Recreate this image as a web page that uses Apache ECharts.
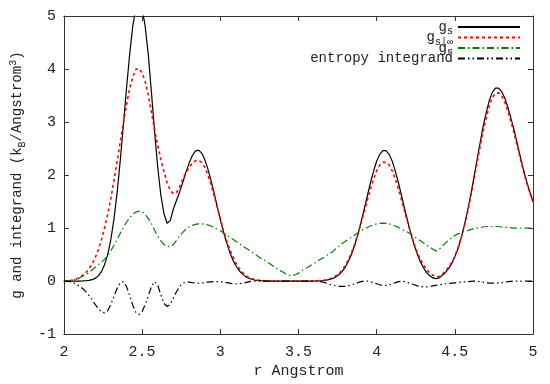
<!DOCTYPE html>
<html><head><meta charset="utf-8">
<script src="https://cdn.jsdelivr.net/npm/echarts@6/dist/echarts.min.js"></script>
<style>html,body{margin:0;padding:0;background:#fff}#c{width:550px;height:384px}</style>
</head><body><div id="c"></div>
<script>
// r grid (Angstrom), 2.00 .. 5.00 step 0.02
const r = Array.from({length: 151}, (_, i) => +(2 + i * 0.02).toFixed(2));

const gs = [
  0,0,0,0,0,0.001,0.003,0.006,0.013,0.026,
  0.052,0.098,0.178,0.31,0.50,0.78,1.17,1.66,2.26,2.93,
  3.62,4.26,4.80,5.15,5.27,5.15,4.80,4.26,3.55,2.82,
  2.15,1.62,1.27,1.09,1.14,1.36,1.52,1.68,1.86,2.05,
  2.22,2.36,2.45,2.47,2.42,2.30,2.12,1.91,1.67,1.41,
  1.17,0.93,0.73,0.55,0.40,0.29,0.20,0.136,0.089,0.057,
  0.035,0.021,0.012,0.007,0.004,0.002,0.001,0,0,0,
  0,0,0,0,0,0,0,0,0,0.001,
  0.002,0.003,0.006,0.011,0.019,0.031,0.050,0.080,0.123,0.183,
  0.265,0.373,0.51,0.68,0.88,1.11,1.35,1.60,1.85,2.07,
  2.26,2.39,2.46,2.46,2.39,2.26,2.07,1.85,1.60,1.35,
  1.11,0.88,0.68,0.51,0.36,0.25,0.16,0.10,0.06,0.045,
  0.06,0.11,0.163,0.235,0.33,0.456,0.61,0.81,1.04,1.30,
  1.60,1.92,2.25,2.58,2.90,3.17,3.40,3.56,3.64,3.64,
  3.57,3.45,3.27,3.06,2.84,2.59,2.33,2.09,1.87,1.68,
  1.50
];

const gsInf = [
  0,0.005,0.01,0.02,0.04,0.07,0.11,0.16,0.23,0.32,
  0.44,0.59,0.78,1.0,1.26,1.56,1.9,2.25,2.62,2.98,
  3.32,3.62,3.85,3.99,4.01,3.93,3.76,3.5,3.18,2.85,
  2.56,2.3,2.06,1.86,1.71,1.65,1.67,1.78,1.92,2.04,
  2.14,2.22,2.27,2.28,2.24,2.15,2.01,1.83,1.62,1.40,
  1.18,0.96,0.77,0.60,0.46,0.34,0.24,0.17,0.11,0.07,
  0.05,0.03,0.02,0.01,0.005,0.002,0,0,0,0,
  0,0,0,0,0,0,0,0,0,0,
  0,0.005,0.01,0.016,0.027,0.043,0.067,0.10,0.15,0.21,
  0.30,0.41,0.54,0.70,0.89,1.09,1.30,1.52,1.73,1.92,
  2.08,2.19,2.24,2.24,2.19,2.08,1.92,1.73,1.52,1.30,
  1.09,0.89,0.70,0.54,0.41,0.30,0.21,0.15,0.11,0.085,
  0.09,0.13,0.19,0.26,0.35,0.47,0.62,0.81,1.03,1.28,
  1.57,1.88,2.2,2.51,2.81,3.07,3.3,3.46,3.54,3.55,
  3.49,3.37,3.2,3.0,2.78,2.54,2.29,2.06,1.85,1.66,
  1.49
];

const gr = [
  0,0.005,0.01,0.02,0.04,0.06,0.09,0.12,0.16,0.21,
  0.26,0.31,0.36,0.41,0.48,0.57,0.67,0.79,0.90,1.01,
  1.11,1.19,1.26,1.30,1.32,1.31,1.26,1.18,1.08,0.96,
  0.85,0.76,0.69,0.655,0.65,0.69,0.77,0.85,0.92,0.98,
  1.02,1.05,1.07,1.08,1.08,1.07,1.06,1.04,1.01,0.98,
  0.95,0.91,0.87,0.83,0.79,0.75,0.71,0.67,0.63,0.59,
  0.55,0.51,0.47,0.43,0.40,0.36,0.32,0.28,0.24,0.20,
  0.17,0.135,0.11,0.10,0.12,0.15,0.19,0.23,0.26,0.30,
  0.33,0.37,0.41,0.44,0.48,0.52,0.56,0.61,0.66,0.71,
  0.75,0.79,0.83,0.87,0.91,0.95,0.98,1.01,1.04,1.06,
  1.08,1.09,1.095,1.09,1.08,1.06,1.04,1.01,0.98,0.95,
  0.92,0.88,0.84,0.80,0.76,0.72,0.68,0.64,0.60,0.57,
  0.60,0.66,0.72,0.77,0.82,0.86,0.89,0.91,0.93,0.95,
  0.97,0.99,1.00,1.01,1.02,1.03,1.03,1.03,1.03,1.025,
  1.02,1.015,1.01,1.005,1.0,1.0,1.0,1.0,1.0,1.0,
  1.0
];

const entropy = [
  0,-0.005,-0.01,-0.03,-0.06,-0.10,-0.14,-0.20,-0.27,-0.35,
  -0.44,-0.52,-0.58,-0.60,-0.56,-0.44,-0.29,-0.14,-0.03,-0.01,
  -0.10,-0.27,-0.45,-0.59,-0.63,-0.58,-0.44,-0.28,-0.10,-0.01,
  -0.08,-0.26,-0.42,-0.48,-0.44,-0.32,-0.20,-0.10,-0.04,-0.02,
  -0.02,-0.03,-0.035,-0.04,-0.04,-0.03,-0.02,-0.015,-0.01,-0.01,
  -0.015,-0.02,-0.03,-0.04,-0.05,-0.05,-0.05,-0.04,-0.03,-0.015,
  -0.005,0,0,0,0,0,0,0,0,0,
  0,0,0,0,0,0,0,0,0,0,
  0,0,-0.01,-0.02,-0.04,-0.06,-0.08,-0.09,-0.10,-0.10,
  -0.10,-0.09,-0.07,-0.05,-0.03,-0.01,0,0,-0.01,-0.03,
  -0.05,-0.07,-0.08,-0.08,-0.07,-0.05,-0.03,-0.01,0,-0.01,
  -0.03,-0.05,-0.07,-0.09,-0.10,-0.11,-0.11,-0.10,-0.09,-0.08,
  -0.07,-0.06,-0.05,-0.05,-0.04,-0.035,-0.03,-0.02,-0.015,-0.01,
  -0.005,0,0,-0.01,-0.02,-0.03,-0.04,-0.04,-0.04,-0.035,
  -0.03,-0.02,-0.01,-0.005,0,0,0,0,0,0,
  0
];

const xTicks = {min: 2, max: 5, interval: 0.5};
const yTicks = {min: -1, max: 5, interval: 1};
const legendLabels = {
  gs: '{m|g}{s|s}',
  gsInf: '{m|g}{s|s|∞}',
  gr: '{m|g}{s|r}',
  ent: '{m|entropy integrand}'
};

const FONT = 'Liberation Mono';
const TXT = '#222';
const AX = '#333';
const pair = a => r.map((x, i) => [x, a[i]]);

const chart = echarts.init(document.getElementById('c'), null, {renderer: 'canvas'});

const baseAxis = {
  type: 'value',
  axisLine: {show: true, onZero: false, lineStyle: {color: AX, width: 1}},
  axisTick: {show: true, inside: true, length: 5, lineStyle: {color: AX}},
  splitLine: {show: false},
  axisLabel: {fontFamily: FONT, fontSize: 15, color: TXT}
};

chart.setOption({
  animation: false,
  backgroundColor: '#fff',
  grid: {left: 55.7, right: 17, top: 16, bottom: 38.5},
  legend: {
    orient: 'vertical', right: 24, top: 15, align: 'right',
    itemWidth: 62, itemHeight: 8, itemGap: -6,
    itemStyle: {opacity: 0, borderWidth: 0},
    formatter: n => legendLabels[n],
    textStyle: {
      fontFamily: FONT, fontSize: 14, color: TXT,
      rich: {
        m: {fontFamily: FONT, fontSize: 14, color: TXT},
        s: {fontFamily: FONT, fontSize: 10, color: TXT, verticalAlign: 'bottom', padding: [9, 0, 0, 0]}
      }
    }
  },
  xAxis: [
    Object.assign({}, baseAxis, xTicks, {
      position: 'bottom',
      axisLabel: {fontFamily: FONT, fontSize: 15, color: TXT, margin: 10},
      name: 'r Angstrom', nameLocation: 'middle', nameGap: 28,
      nameTextStyle: {fontFamily: FONT, fontSize: 15, color: TXT}
    }),
    Object.assign({}, baseAxis, xTicks, {position: 'top', axisLabel: {show: false}})
  ],
  yAxis: [
    Object.assign({}, baseAxis, yTicks, {
      position: 'left',
      axisLabel: {fontFamily: FONT, fontSize: 15, color: TXT, margin: 8},
      name: 'g and integrand (k{sub|B}/Angstrom{sup|3})', nameLocation: 'middle', nameGap: 29,
      nameTextStyle: {
        fontFamily: FONT, fontSize: 14, color: TXT,
        rich: {
          sub: {fontFamily: FONT, fontSize: 10, color: TXT, verticalAlign: 'bottom', padding: [9, 0, 0, 0]},
          sup: {fontFamily: FONT, fontSize: 10, color: TXT, verticalAlign: 'top', padding: [0, 0, 9, 0]}
        }
      }
    }),
    Object.assign({}, baseAxis, yTicks, {position: 'right', axisLabel: {show: false}})
  ],
  series: [
    {name: 'gs', type: 'line', data: pair(gs), showSymbol: false, symbol: 'none',
     lineStyle: {color: '#000', width: 1.2, type: 'solid'}, itemStyle: {color: '#000'}},
    {name: 'gsInf', type: 'line', data: pair(gsInf), showSymbol: false, symbol: 'none',
     lineStyle: {color: '#ff0000', width: 1.6, type: [3, 3]}, itemStyle: {color: '#ff0000'}},
    {name: 'gr', type: 'line', data: pair(gr), showSymbol: false, symbol: 'none',
     lineStyle: {color: '#008000', width: 1.2, type: [7, 3, 1.5, 3]}, itemStyle: {color: '#008000'}},
    {name: 'ent', type: 'line', data: pair(entropy), showSymbol: false, symbol: 'none',
     lineStyle: {color: '#000', width: 1.2, type: [7, 3, 1.5, 3, 1.5, 3]}, itemStyle: {color: '#000'}}
  ]
});
</script>
</body></html>
